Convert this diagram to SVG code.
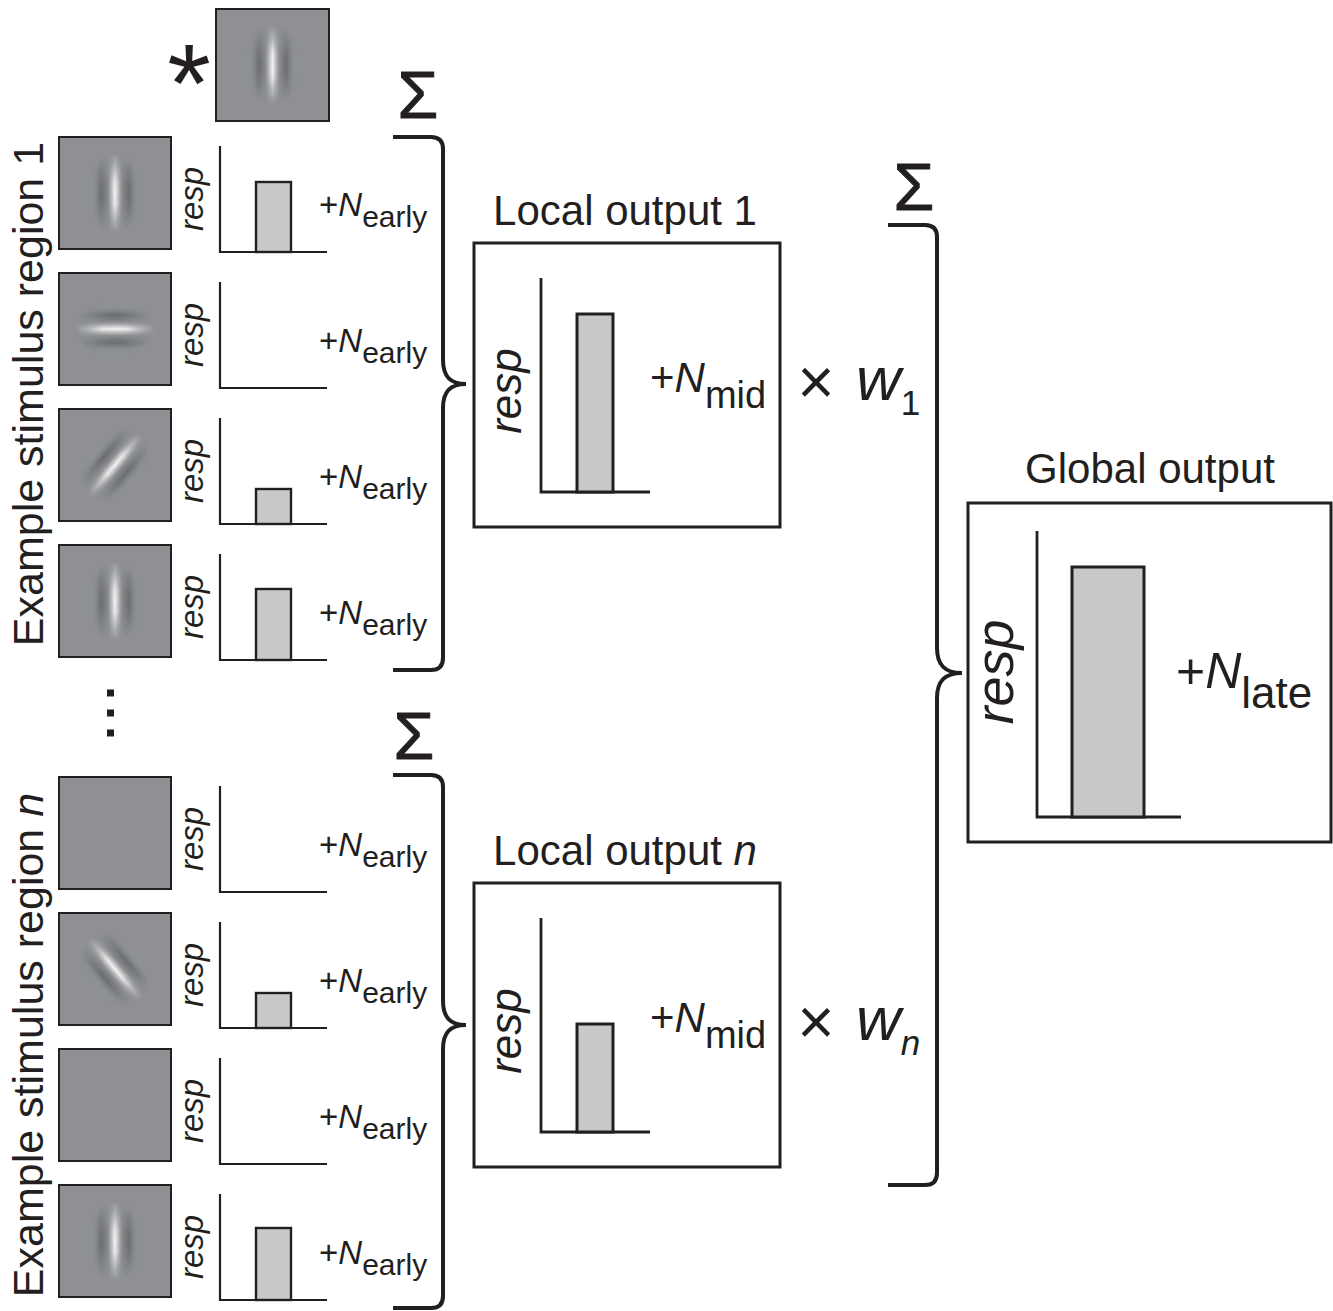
<svg xmlns="http://www.w3.org/2000/svg" xmlns:xlink="http://www.w3.org/1999/xlink" width="1333" height="1311" viewBox="0 0 1333 1311">
<style>
text{font-family:"Liberation Sans",Arial,Helvetica,sans-serif;fill:#231f20}
.patch{fill:#8e9093;stroke:#231f20;stroke-width:2}
.axis{fill:none;stroke:#231f20;stroke-width:2.2}
.axisL{fill:none;stroke:#231f20;stroke-width:2.8}
.bar{fill:#c8c9cb;stroke:#231f20;stroke-width:2.4}
.barL{fill:#c8c9cb;stroke:#231f20;stroke-width:3}
.box{fill:none;stroke:#231f20;stroke-width:3}
.brace{fill:none;stroke:#231f20;stroke-width:4;stroke-linecap:butt}
.resp{font-size:33px;font-style:italic;text-anchor:middle}
.respM{font-size:44px;font-style:italic;text-anchor:middle}
.respL{font-size:54px;font-style:italic;text-anchor:middle}
.ne{font-size:33px}
.sub{font-size:30px;font-style:normal}
.it{font-style:italic}
.title{font-size:42px;text-anchor:middle}
.sig{font-size:66px;text-anchor:middle;stroke:#231f20;stroke-width:1}
.side{font-size:43px;text-anchor:middle}
</style>
<defs>
<linearGradient id="stripe" gradientUnits="userSpaceOnUse" x1="-36" y1="0" x2="36" y2="0">
<stop offset="0" stop-color="#8e9093"/>
<stop offset="0.12" stop-color="#96989b"/>
<stop offset="0.2" stop-color="#8e9093"/>
<stop offset="0.3" stop-color="#5a5c60"/>
<stop offset="0.41" stop-color="#8e9093"/>
<stop offset="0.5" stop-color="#f4f4f4"/>
<stop offset="0.59" stop-color="#8e9093"/>
<stop offset="0.7" stop-color="#5a5c60"/>
<stop offset="0.8" stop-color="#8e9093"/>
<stop offset="0.88" stop-color="#96989b"/>
<stop offset="1" stop-color="#8e9093"/>
</linearGradient>
<radialGradient id="env">
<stop offset="0" stop-color="#fff"/>
<stop offset="0.3" stop-color="#e6e6e6"/>
<stop offset="0.6" stop-color="#777"/>
<stop offset="1" stop-color="#000"/>
</radialGradient>
<mask id="gm" maskUnits="userSpaceOnUse" x="-60" y="-60" width="120" height="120">
<ellipse cx="0" cy="0" rx="30" ry="40" fill="url(#env)"/>
</mask>
<g id="gabor"><rect x="-36" y="-50" width="72" height="100" fill="url(#stripe)" mask="url(#gm)"/></g>
</defs>
<rect width="1333" height="1311" fill="#fff"/>

<g id="kernel">
<text x="189" y="122" font-size="112" text-anchor="middle">*</text>
<rect class="patch" x="216" y="9" width="113" height="112"/>
<use xlink:href="#gabor" transform="translate(272.5,65)"/>
</g>

<g id="label-region1"><text class="side" transform="translate(43,394) rotate(-90)">Example stimulus region 1</text></g>
<g id="label-regionn"><text class="side" transform="translate(43,1045) rotate(-90)">Example stimulus region <tspan class="it">n</tspan></text></g>

<g id="dots" fill="#231f20">
<rect x="107" y="689.5" width="7" height="7"/>
<rect x="107" y="709.5" width="7" height="7"/>
<rect x="107" y="729.5" width="7" height="7"/>
</g>

<g id="row1">
<rect class="patch" x="59" y="137" width="112" height="112"/>
<use xlink:href="#gabor" transform="translate(115,193)"/>
<path class="axis" d="M220 146V252H327"/>
<rect class="bar" x="256" y="182" width="35" height="70"/>
<text class="resp" transform="translate(203,199) rotate(-90)">resp</text>
<text class="ne" x="319" y="216">+<tspan class="it">N</tspan><tspan class="sub" dy="11">early</tspan></text>
</g>
<g id="row2">
<rect class="patch" x="59" y="273" width="112" height="112"/>
<use xlink:href="#gabor" transform="translate(115,329) rotate(90)"/>
<path class="axis" d="M220 282V388H327"/>
<text class="resp" transform="translate(203,335) rotate(-90)">resp</text>
<text class="ne" x="319" y="352">+<tspan class="it">N</tspan><tspan class="sub" dy="11">early</tspan></text>
</g>
<g id="row3">
<rect class="patch" x="59" y="409" width="112" height="112"/>
<use xlink:href="#gabor" transform="translate(115,465) rotate(40)"/>
<path class="axis" d="M220 418V524H327"/>
<rect class="bar" x="256" y="489" width="35" height="35"/>
<text class="resp" transform="translate(203,471) rotate(-90)">resp</text>
<text class="ne" x="319" y="488">+<tspan class="it">N</tspan><tspan class="sub" dy="11">early</tspan></text>
</g>
<g id="row4">
<rect class="patch" x="59" y="545" width="112" height="112"/>
<use xlink:href="#gabor" transform="translate(115,601)"/>
<path class="axis" d="M220 554V660H327"/>
<rect class="bar" x="256" y="589" width="35" height="71"/>
<text class="resp" transform="translate(203,607) rotate(-90)">resp</text>
<text class="ne" x="319" y="624">+<tspan class="it">N</tspan><tspan class="sub" dy="11">early</tspan></text>
</g>
<g id="row5">
<rect class="patch" x="59" y="777" width="112" height="112"/>
<path class="axis" d="M220 786V892H327"/>
<text class="resp" transform="translate(203,839) rotate(-90)">resp</text>
<text class="ne" x="319" y="856">+<tspan class="it">N</tspan><tspan class="sub" dy="11">early</tspan></text>
</g>
<g id="row6">
<rect class="patch" x="59" y="913" width="112" height="112"/>
<use xlink:href="#gabor" transform="translate(115,969) rotate(-40)"/>
<path class="axis" d="M220 922V1028H327"/>
<rect class="bar" x="256" y="993" width="35" height="35"/>
<text class="resp" transform="translate(203,975) rotate(-90)">resp</text>
<text class="ne" x="319" y="992">+<tspan class="it">N</tspan><tspan class="sub" dy="11">early</tspan></text>
</g>
<g id="row7">
<rect class="patch" x="59" y="1049" width="112" height="112"/>
<path class="axis" d="M220 1058V1164H327"/>
<text class="resp" transform="translate(203,1111) rotate(-90)">resp</text>
<text class="ne" x="319" y="1128">+<tspan class="it">N</tspan><tspan class="sub" dy="11">early</tspan></text>
</g>
<g id="row8">
<rect class="patch" x="59" y="1185" width="112" height="112"/>
<use xlink:href="#gabor" transform="translate(115,1241)"/>
<path class="axis" d="M220 1194V1300H327"/>
<rect class="bar" x="256" y="1228" width="35" height="72"/>
<text class="resp" transform="translate(203,1247) rotate(-90)">resp</text>
<text class="ne" x="319" y="1264">+<tspan class="it">N</tspan><tspan class="sub" dy="11">early</tspan></text>
</g>

<g id="sigmas">
<text class="sig" x="418" y="118">Σ</text>
<text class="sig" x="414" y="759">Σ</text>
<text class="sig" x="914" y="210">Σ</text>
</g>

<g id="connectors">
<path class="brace" d="M393 137H431Q443 137 443 149V360C443 376 450 384 466 384C450 384 443 392 443 408V658Q443 670 431 670H393"/>
<path class="brace" d="M393 775H431Q443 775 443 787V1001C443 1017 450 1025 466 1025C450 1025 443 1033 443 1049V1296Q443 1308 431 1308H393"/>
<path class="brace" d="M888 225H925Q937 225 937 237V648C937 664 944 673 962 673C944 673 937 682 937 698V1173Q937 1185 925 1185H888"/>
</g>

<g id="local1">
<text class="title" x="625" y="225">Local output 1</text>
<rect class="box" x="474" y="243" width="306" height="284"/>
<path class="axisL" d="M541 278V492H650"/>
<rect class="barL" x="577" y="314" width="36" height="178"/>
<text class="respM" transform="translate(521,391) rotate(-90)">resp</text>
<text x="650" y="392" font-size="42">+<tspan class="it">N</tspan><tspan font-size="38" dy="16">mid</tspan></text>
</g>
<g id="weight1">
<text x="816" y="404" font-size="64" text-anchor="middle">×</text>
<text x="856" y="400" font-size="62" class="it">w<tspan font-size="35" font-style="normal" dy="15">1</tspan></text>
</g>

<g id="localn">
<text class="title" x="625" y="865">Local output <tspan class="it">n</tspan></text>
<rect class="box" x="474" y="883" width="306" height="284"/>
<path class="axisL" d="M541 918V1132H650"/>
<rect class="barL" x="577" y="1024" width="36" height="108"/>
<text class="respM" transform="translate(521,1031) rotate(-90)">resp</text>
<text x="650" y="1032" font-size="42">+<tspan class="it">N</tspan><tspan font-size="38" dy="16">mid</tspan></text>
</g>
<g id="weightn">
<text x="816" y="1044" font-size="64" text-anchor="middle">×</text>
<text x="856" y="1040" font-size="62" class="it">w<tspan font-size="35" dy="15">n</tspan></text>
</g>

<g id="global">
<text class="title" x="1150" y="483">Global output</text>
<rect class="box" x="968" y="503" width="363" height="339"/>
<path class="axisL" d="M1037 531V817H1181"/>
<rect class="barL" x="1072" y="567" width="72" height="250"/>
<text class="respL" transform="translate(1013,672) rotate(-90)">resp</text>
<text x="1176" y="688" font-size="50">+<tspan class="it">N</tspan><tspan font-size="44" dy="20">late</tspan></text>
</g>
</svg>
